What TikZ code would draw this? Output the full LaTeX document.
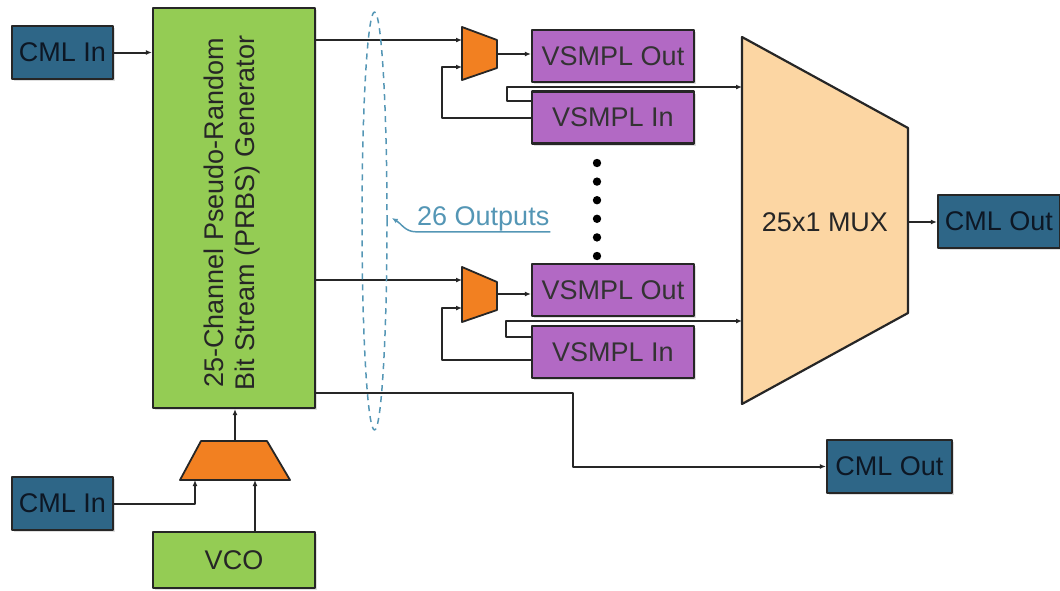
\documentclass[tikz,border=0pt]{standalone}
\usepackage{fontspec}
\setmainfont{Liberation Sans}
\usetikzlibrary{arrows.meta}
\usetikzlibrary{shapes.geometric}
\usetikzlibrary{shadows}
\definecolor{cmlblue}{rgb}{0.18,0.40,0.53}
\definecolor{cmltext}{rgb}{0.05,0.09,0.14}
\definecolor{prbsgreen}{rgb}{0.58,0.80,0.33}
\definecolor{vsmplpurple}{rgb}{0.70,0.41,0.77}
\definecolor{muxorange}{rgb}{0.95,0.50,0.13}
\definecolor{muxpeach}{rgb}{0.99,0.84,0.64}
\definecolor{grpteal}{rgb}{0.33,0.59,0.71}
\definecolor{wireblk}{rgb}{0.15,0.15,0.15}

\begin{document}
\begin{tikzpicture}[line join=round,x=1pt,y=-1pt,
  blk/.style={draw=wireblk,line width=2.2pt,inner sep=0pt,font=\fontsize{27}{31}\selectfont,
    drop shadow={opacity=0.25,shadow xshift=2pt,shadow yshift=-2pt}},
  cmlbox/.style={blk,fill=cmlblue,text=cmltext,minimum height=53pt},
  prbsbox/.style={blk,fill=prbsgreen,text=black!85},
  vsmplbox/.style={blk,fill=vsmplpurple,text=black!80,minimum width=162pt,minimum height=52pt},
  smux/.style={draw=wireblk,fill=muxorange,line width=1.8pt},
  bigmux/.style={draw=wireblk,fill=muxpeach,line width=2.2pt},
  wire/.style={draw=wireblk,line width=2pt},
  sig/.style={wire,-{Latex[length=6pt,width=5pt]}},
  grp/.style={ellipse,draw=grpteal,line width=1.5pt,dash pattern=on 6pt off 5pt,inner sep=0pt}]
\useasboundingbox (0,0) rectangle (1060,590);

% blocks
\node[cmlbox,minimum width=101pt] (cmla) at (62.5,52.5) {CML In};
\node[prbsbox,minimum width=162pt,minimum height=400pt] (prbs) at (234,208) {};
\node[rotate=90,align=center,font=\fontsize{27}{31}\selectfont,text=black!85] (prbstxt) at (232,213)
  {25-Channel Pseudo-Random\\Bit Stream (PRBS) Generator};
\node[prbsbox,minimum width=162pt,minimum height=56pt] (vco) at (234,560) {VCO};
\node[cmlbox,minimum width=101pt] (cmlb) at (62.5,503.5) {CML In};

\node[vsmplbox] (vout1) at (613,56) {VSMPL Out};
\node[vsmplbox] (vin1) at (613,117.5) {VSMPL In};
\node[vsmplbox] (vout2) at (613,290) {VSMPL Out};
\node[vsmplbox] (vin2) at (613,352) {VSMPL In};

\node[cmlbox,minimum width=122pt] (cmlo1) at (999,221.5) {CML Out};
\node[cmlbox,minimum width=125pt] (cmlo2) at (889.5,466.5) {CML Out};

% muxes
\draw[smux] (201,441) -- (267,441) -- (290,480) -- (180,480) -- cycle;
\coordinate (bmo) at (235,441);
\coordinate (bmi1) at (195,480);
\coordinate (bmi2) at (255,480);

\draw[smux] (462,27) -- (497,40) -- (497,68) -- (462,80) -- cycle;
\coordinate (m1i1) at (462,40);
\coordinate (m1i2) at (462,67);
\coordinate (m1o) at (497,54);

\draw[smux] (462,267) -- (497,282) -- (497,310) -- (462,322) -- cycle;
\coordinate (m2i1) at (462,280);
\coordinate (m2i2) at (462,308);
\coordinate (m2o) at (497,294);

\draw[bigmux] (742,37) -- (908,128) -- (908,313) -- (742,404) -- cycle;
\node[font=\fontsize{27}{31}\selectfont,text=black!85] (muxlbl) at (825,222) {25x1 MUX};
\coordinate (mi1) at (742,87);
\coordinate (mi2) at (742,321);
\coordinate (mo) at (908,222);

% wires
\draw[sig] (cmla.east) -- (cmla.east -| prbs.west);
\draw[sig] (bmo) -- (bmo |- prbs.south);
\draw[sig] (cmlb.east) -| (bmi1);
\draw[sig] (vco.north -| bmi2) -- (bmi2);

\draw[sig] (m1i1 -| prbs.east) -- (m1i1);
\draw[sig] (m1o) -- (m1o -| vout1.west);
\draw[sig] (vin1.west) -- ++(-89,0) |- (m1i2);
\draw[sig] ([yshift=17pt]vin1.west) -- ++(-24,0) |- (mi1);

\draw[sig] (m2i1 -| prbs.east) -- (m2i1);
\draw[sig] (m2o) -- (m2o -| vout2.west);
\draw[sig] ([yshift=-8pt]vin2.west) -- ++(-89,0) |- (m2i2);
\draw[sig] ([yshift=15pt]vin2.west) -- ++(-25,0) |- (mi2);

\draw[sig] (mo) -- (mo -| cmlo1.west);
\draw[sig] ([yshift=-185pt]prbs.east) -- ++(257,0) |- (cmlo2.west);

\foreach \i in {0,...,5}
\fill[black] (597,{163+18.6*\i}) circle (4.2pt);

% outputs group
\node[grp,minimum width=25pt,minimum height=418pt] (outs) at (374.5,221) {};
\node[text=grpteal,font=\fontsize{27}{31}\selectfont,inner sep=1pt,anchor=base west] (outlbl) at (416,225) {26 Outputs};
\draw[grpteal,line width=1.5pt,-{Latex[length=6pt,width=5pt]}] (outlbl.south east) -- (outlbl.south west)
  to[out=180,in=-30] ([xshift=4pt,yshift=3pt]outs.east);
\end{tikzpicture}
\end{document}
